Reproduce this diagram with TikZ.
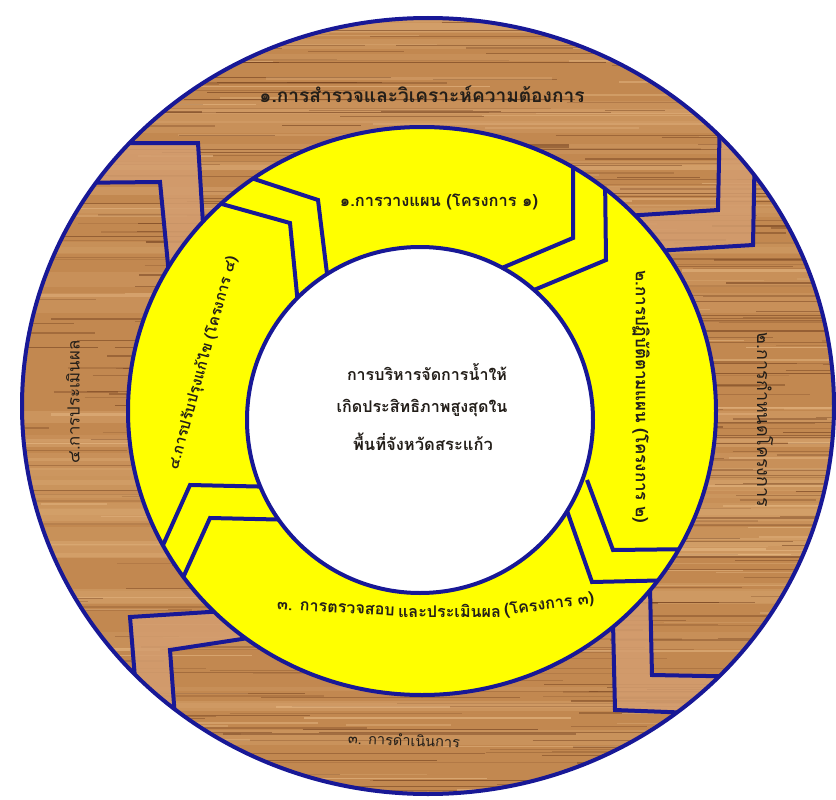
\documentclass[tikz,border=0pt]{standalone}
\usepackage{fontspec}
\newfontfamily\thai[Script=Thai]{Loma}
\definecolor{navy}{RGB}{24,24,150}
\definecolor{wood}{RGB}{194,136,80}
\definecolor{wooddark}{RGB}{110,60,28}
\definecolor{woodlight}{RGB}{234,190,138}
\definecolor{woodband}{RGB}{212,158,112}
\definecolor{ylw}{RGB}{255,255,0}
\definecolor{txt}{RGB}{35,30,25}
\newcommand\fitto[2]{\resizebox{#1pt}{!}{\thai #2}}
\newlength\wtmp
\begin{document}
\settowidth\wtmp{\thai\bfseries ๓. การตรวจสอบ และประเมินผล (โครงการ ๓)}%
\pgfmathsetmacro\bsf{322/\wtmp}%
\begin{tikzpicture}[x=1pt,y=-1pt,
  navyline/.style={draw=navy,line width=4pt,line join=miter},
  woodtext/.style={inner sep=0pt,text=txt},
  ylwtext/.style={inner sep=0pt,text=txt,font=\bfseries}]
\useasboundingbox (0,0) rectangle (836,800);
\fill[white] (0,0) rectangle (836,800);
% wood ring
\begin{scope}
  \clip (428,406) ellipse [x radius=406pt, y radius=388pt];
  \fill[wood] (0,0) rectangle (836,800);
  \pgfmathsetseed{11}
  \foreach \i in {1,...,40}{
    \pgfmathsetmacro\yy{rnd*800}
    \pgfmathsetmacro\hh{4+rnd*16}
    \pgfmathsetmacro\op{0.10+rnd*0.2}
    \fill[woodlight,opacity=\op] (0,\yy) rectangle (836,\yy+\hh);
  }
  \foreach \i in {1,...,420}{
    \pgfmathsetmacro\yy{rnd*800}
    \pgfmathsetmacro\xx{rnd*900-60}
    \pgfmathsetmacro\ll{60+rnd*380}
    \pgfmathsetmacro\ww{0.3+rnd*1.6}
    \pgfmathsetmacro\op{0.15+rnd*0.45}
    \draw[wooddark,line width=\ww pt,opacity=\op] (\xx,\yy) -- ++(\ll,0);
  }
  \foreach \i in {1,...,150}{
    \pgfmathsetmacro\yy{rnd*800}
    \pgfmathsetmacro\xx{rnd*900-60}
    \pgfmathsetmacro\ll{60+rnd*300}
    \pgfmathsetmacro\ww{0.5+rnd*2}
    \pgfmathsetmacro\op{0.2+rnd*0.4}
    \draw[woodlight,line width=\ww pt,opacity=\op] (\xx,\yy) -- ++(\ll,0);
  }
  % chevron bands
  \fill[woodband,opacity=0.85] (720,110) -- (718,210) -- (625,216) -- (655,251) -- (753,245) -- (755,140) -- cycle;
  \fill[woodband,opacity=0.85] (100,143) -- (198,143) -- (204,240) -- (169,275) -- (160,182) -- (60,183) -- cycle;
  \fill[woodband,opacity=0.85] (225,611) -- (130,617) -- (138,715) -- (177,745) -- (170,650) -- (255,637) -- cycle;
  \fill[woodband,opacity=0.85] (650,588) -- (652,675) -- (760,677) -- (720,714) -- (615,710) -- (613,622) -- cycle;
  % outer chevrons
  \draw[navyline] (720,110) -- (718,210) -- (625,216);
  \draw[navyline] (755,140) -- (753,245) -- (655,251);
  \draw[navyline] (100,143) -- (198,143) -- (204,240);
  \draw[navyline] (60,183) -- (160,182) -- (169,275);
  \draw[navyline] (225,611) -- (130,617) -- (138,715);
  \draw[navyline] (255,637) -- (170,650) -- (177,745);
  \draw[navyline] (650,588) -- (652,675) -- (760,677);
  \draw[navyline] (613,622) -- (615,710) -- (720,714);
\end{scope}
\draw[navy,line width=4pt] (428,406) ellipse [x radius=406pt, y radius=388pt];
% yellow ring
\fill[ylw] (422,411) ellipse [x radius=294pt, y radius=284pt];
\begin{scope}
  \clip (422,411) ellipse [x radius=294pt, y radius=284pt];
  \draw[navyline] (245,176) -- (318,200) -- (329,290);
  \draw[navyline] (211,201) -- (290,223) -- (299,315);
  \draw[navyline] (573,150) -- (573,238) -- (490,273);
  \draw[navyline] (605,175) -- (606,260) -- (522,295);
  \draw[navyline] (155,563) -- (190,485) -- (280,487);
  \draw[navyline] (177,591) -- (210,518) -- (300,520);
  \draw[navyline] (587,480) -- (613,550) -- (700,549);
  \draw[navyline] (565,505) -- (592,582) -- (680,580);
\end{scope}
\draw[navy,line width=4pt] (422,411) ellipse [x radius=294pt, y radius=284pt];
% white centre
\fill[white] (420,420) circle [radius=173pt];
\draw[navy,line width=4pt] (420,420) circle [radius=173pt];
% texts
\node[woodtext] (o1) at (422,94) {\fitto{325}{\bfseries ๑.การสำรวจและวิเคราะห์ความต้องการ}};
\node[woodtext,rotate=-90] (o2) at (765,420) {\fitto{174}{๒.การกำหนดโครงการ}};
\node[woodtext,rotate=-2] (o3) at (404,740) {\fitto{112}{๓. การดำเนินการ}};
\node[woodtext,rotate=90] (o4) at (73,402) {\fitto{123}{๔.การประเมินผล}};
\node[ylwtext] (i1) at (439,202) {\fitto{198}{\bfseries ๑.การวางแผน (โครงการ ๑)}};
\node[ylwtext,rotate=-90] (i2) at (641,397) {\fitto{253}{\bfseries ๒.การปฏิบัติตามแผน (โครงการ ๒)}};
\node[ylwtext,rotate=-3,anchor=west] (i3a) at (277,605) {\scalebox{\bsf}{\thai\bfseries ๓. การตรวจสอบ}};
\node[ylwtext,anchor=west] (i3b) at ([xshift=3pt]i3a.east) {\scalebox{\bsf}{\thai\bfseries และประเมินผล}};
\node[ylwtext,rotate=8,anchor=west] (i3c) at ([xshift=3pt]i3b.east) {\scalebox{\bsf}{\thai\bfseries (โครงการ ๓)}};
\node[ylwtext,rotate=74.5] (i4) at (203,363) {\fitto{221}{\bfseries ๔.การปรับปรุงแก้ไข (โครงการ ๔)}};
\node[ylwtext] (c1) at (427,372) {\fitto{160}{\bfseries การบริหารจัดการน้ำให้}};
\node[ylwtext] (c2) at (422,408) {\fitto{171}{\bfseries เกิดประสิทธิภาพสูงสุดใน}};
\node[ylwtext] (c3) at (423,442) {\fitto{140}{\bfseries พื้นที่จังหวัดสระแก้ว}};
\end{tikzpicture}
\end{document}
